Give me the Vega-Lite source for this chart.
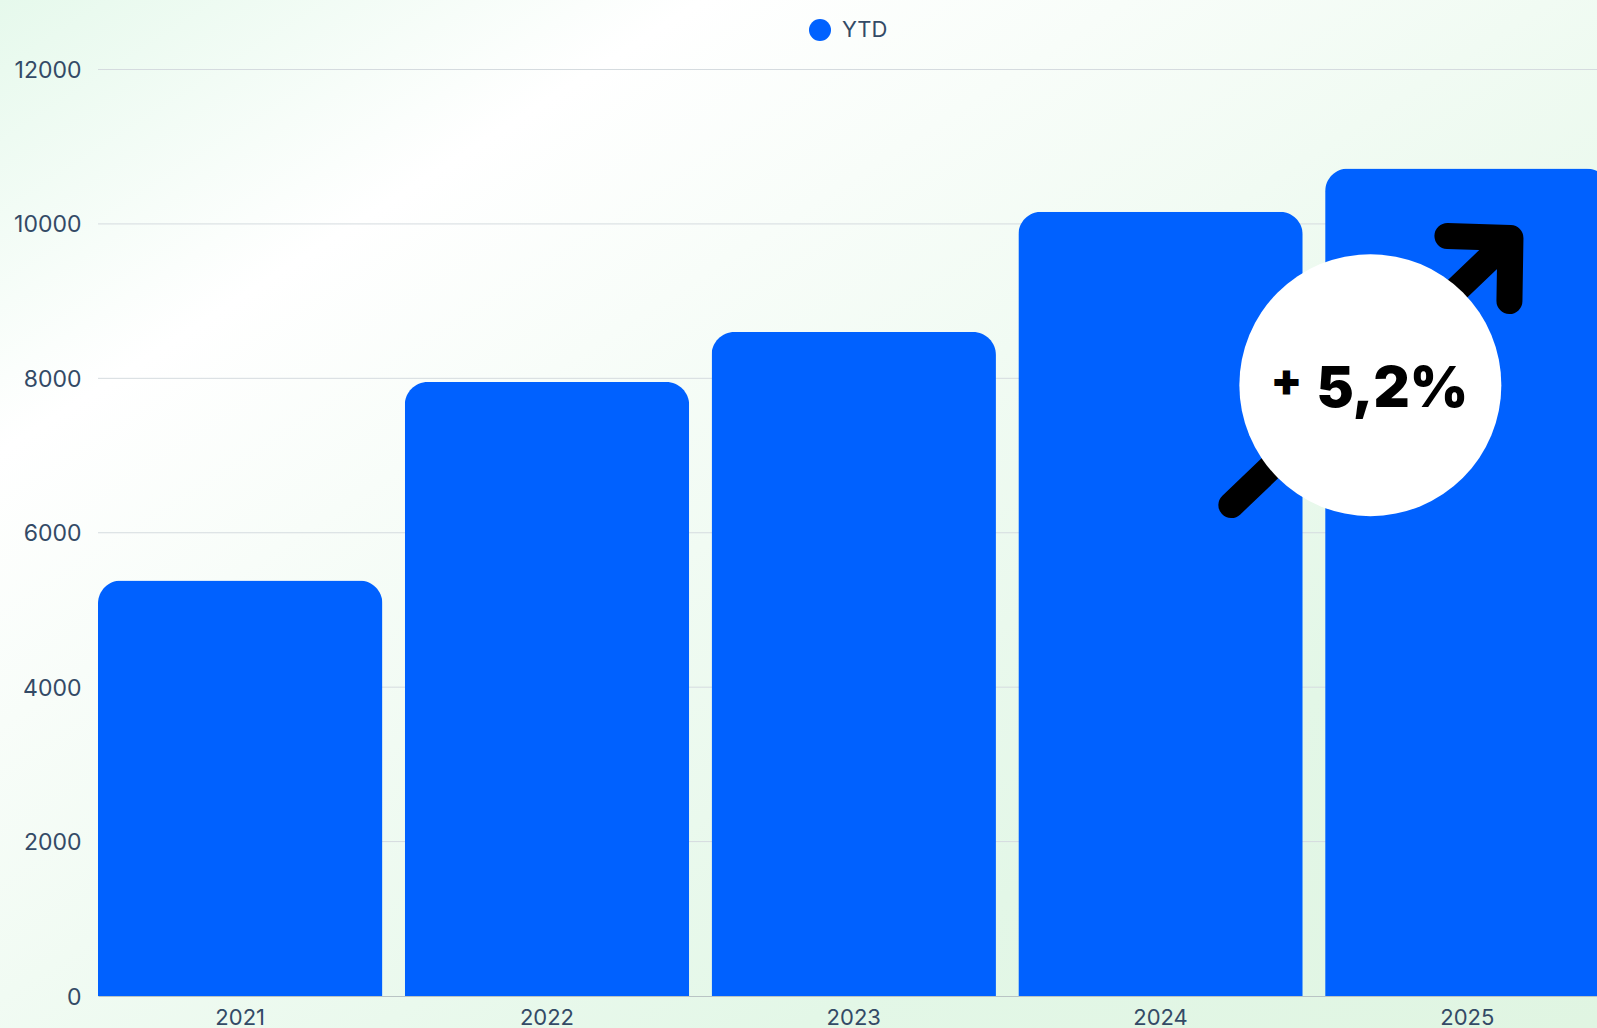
{
"$schema":"https://vega.github.io/schema/vega-lite/v6.json",
"width":1511.5,"height":926.5,
"autosize":{"type":"none"},
"padding":{"left":98,"top":69.5,"right":0,"bottom":32},
"background":"#ffffff",
"config":{"view":{"stroke":null},"font":"Inter"},
"datasets":{
"bars":[{"year":"2021","value":5380,"series":"YTD"},{"year":"2022","value":7952,"series":"YTD"},{"year":"2023","value":8600,"series":"YTD"},{"year":"2024","value":10158,"series":"YTD"},{"year":"2025","value":10717,"series":"YTD"}],
"grid":[{"v":2000},{"v":4000},{"v":6000},{"v":8000},{"v":10000},{"v":12000}],
"panel":[{"x0":2020.2175,"x1":2025.425,"y0":-414,"y1":12900}],
"arrow":[
{"part":"shaft","i":1,"x":2024.2306,"y":6359},
{"part":"shaft","i":2,"x":2025.1239,"y":9753},
{"part":"head","i":1,"x":2024.9348,"y":9843},
{"part":"head","i":2,"x":2025.1402,"y":9817},
{"part":"head","i":3,"x":2025.1369,"y":9001}],
"badge":[{"x":2024.6836,"y":7912}],
"labels":[{"x":2024.41,"y":7950,"t":"+","s":46},{"x":2024.755,"y":7845,"t":"5,2%","s":56}]
},
"layer":[
{"data":{"name":"panel"},
 "mark":{"type":"rect","fill":{"gradient":"linear","x1":0,"y1":0,"x2":1,"y2":1,"stops":[{"offset":0,"color":"#e6f9ec"},{"offset":0.22,"color":"#ffffff"},{"offset":0.75,"color":"#e3f7e7"},{"offset":1,"color":"#e0f5e2"}]}},
 "encoding":{"x":{"field":"x0","type":"quantitative","scale":{"domain":[2020.537,2025.463]},"axis":null},"x2":{"field":"x1"},"y":{"field":"y0","type":"quantitative","scale":{"domain":[0,12000],"nice":false},"axis":{"title":null,"values":[0,2000,4000,6000,8000,10000,12000],"format":"d","labelFont":"Inter","labelFontSize":23,"labelColor":"#334a66","labelPadding":17,"labelOffset":1,"ticks":false,"domain":false,"grid":false,"zindex":1}},"y2":{"field":"y1"}}},
{"data":{"name":"grid"},
 "mark":{"type":"rule","stroke":"#d5dbdf","strokeWidth":1},
 "encoding":{"y":{"field":"v","type":"quantitative"}}},
{"data":{"name":"bars"},
 "mark":{"type":"bar","cornerRadiusTopLeft":23,"cornerRadiusTopRight":23},
 "encoding":{
  "x":{"field":"year","type":"nominal","scale":{"type":"band","paddingInner":0.073,"paddingOuter":0},
    "axis":{"title":null,"labelAngle":0,"labelFont":"Inter","labelFontSize":22,"labelColor":"#334a66","labelPadding":11,"ticks":false,"domain":true,"domainColor":"#b9c4c4","grid":false,"zindex":1}},
  "y":{"field":"value","type":"quantitative"},
  "color":{"field":"series","type":"nominal","scale":{"domain":["YTD"],"range":["#0061ff"]},
    "legend":{"title":null,"orient":"none","legendX":711,"legendY":-50.5,"symbolType":"circle","symbolSize":484,"symbolStrokeWidth":0,"labelFont":"Inter","labelFontSize":22,"labelColor":"#334a66","labelOffset":11}}
 }},
{"data":{"name":"arrow"},
 "mark":{"type":"line","stroke":"#000000","strokeWidth":26,"strokeCap":"round","strokeJoin":"round"},
 "encoding":{"x":{"field":"x","type":"quantitative","scale":{"domain":[2020.537,2025.463]},"axis":null},"y":{"field":"y","type":"quantitative"},"detail":{"field":"part"},"order":{"field":"i"}}},
{"data":{"name":"badge"},
 "mark":{"type":"circle","fill":"#ffffff","opacity":1,"size":68644},
 "encoding":{"x":{"field":"x","type":"quantitative","scale":{"domain":[2020.537,2025.463]},"axis":null},"y":{"field":"y","type":"quantitative"}}},
{"data":{"name":"labels"},
 "mark":{"type":"text","font":"Inter","fontWeight":900,"fill":"#000000","baseline":"middle","align":"center"},
 "encoding":{"x":{"field":"x","type":"quantitative","scale":{"domain":[2020.537,2025.463]},"axis":null},"y":{"field":"y","type":"quantitative"},"text":{"field":"t"},"size":{"field":"s","type":"quantitative","scale":null}}}
],
"resolve":{"scale":{"x":"independent"}}
}
